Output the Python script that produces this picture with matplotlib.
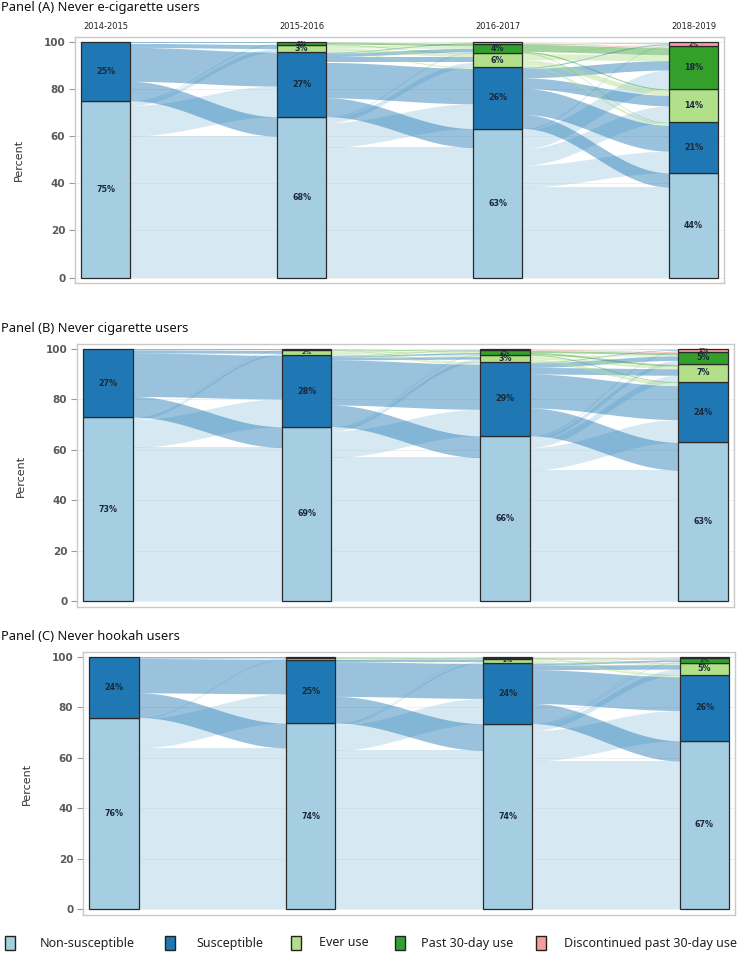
import numpy as np
import matplotlib.pyplot as plt
from matplotlib.patches import Rectangle

# waves and categories
years = ["2014-2015", "2015-2016", "2016-2017", "2018-2019"]
categories = ["Non-susceptible", "Susceptible", "Ever use", "Past 30-day use",
              "Discontinued past 30-day use"]
panel_titles = ["Panel (A) Never e-cigarette users",
                "Panel (B) Never cigarette users",
                "Panel (C) Never hookah users"]

# transition flows (% of cohort), rows = from category, cols = to category
ecig_flow_1 = [[60.0, 13.0, 1.5, 0.5, 0.0],
               [8.2, 14.4, 1.7, 0.7, 0.0],
               [0, 0, 0, 0, 0],
               [0, 0, 0, 0, 0],
               [0, 0, 0, 0, 0]]
ecig_flow_2 = [[55.2, 10.5, 2.0, 0.5, 0.0],
               [8.0, 15.0, 2.5, 1.5, 0.4],
               [0.0, 0.5, 1.3, 1.1, 0.3],
               [0.0, 0.0, 0.2, 0.9, 0.1],
               [0, 0, 0, 0, 0]]
ecig_flow_3 = [[38.4, 9.2, 7.0, 8.0, 0.6],
               [6.0, 11.0, 4.5, 4.0, 0.5],
               [0.0, 1.0, 2.2, 2.5, 0.3],
               [0.0, 0.2, 0.5, 3.0, 0.3],
               [0.0, 0.0, 0.0, 0.5, 0.3]]

cig_flow_1 = [[61.0, 11.0, 0.8, 0.2, 0.0],
              [8.2, 17.3, 1.2, 0.3, 0.0],
              [0, 0, 0, 0, 0],
              [0, 0, 0, 0, 0],
              [0, 0, 0, 0, 0]]
cig_flow_2 = [[57.0, 10.5, 1.2, 0.4, 0.1],
              [8.6, 17.9, 1.0, 0.6, 0.2],
              [0.0, 0.7, 0.5, 0.6, 0.2],
              [0.0, 0.1, 0.1, 0.3, 0.0],
              [0, 0, 0, 0, 0]]
cig_flow_3 = [[52.0, 9.0, 2.6, 1.5, 0.5],
              [11.0, 13.5, 2.6, 1.8, 0.3],
              [0.0, 1.2, 1.0, 0.5, 0.1],
              [0.0, 0.3, 0.7, 0.8, 0.1],
              [0.0, 0.0, 0.1, 0.4, 0.0]]

hookah_flow_1 = [[64.0, 11.6, 0.3, 0.1, 0.0],
                 [9.8, 13.6, 0.3, 0.3, 0.0],
                 [0, 0, 0, 0, 0],
                 [0, 0, 0, 0, 0],
                 [0, 0, 0, 0, 0]]
hookah_flow_2 = [[63.0, 10.0, 0.6, 0.1, 0.1],
                 [10.6, 13.8, 0.6, 0.1, 0.1],
                 [0.0, 0.2, 0.4, 0.0, 0.0],
                 [0.0, 0.0, 0.2, 0.2, 0.0],
                 [0, 0, 0, 0, 0]]
hookah_flow_3 = [[58.8, 12.0, 2.2, 0.4, 0.2],
                 [8.0, 13.4, 1.8, 0.7, 0.1],
                 [0.0, 0.7, 0.6, 0.4, 0.1],
                 [0.0, 0.1, 0.1, 0.2, 0.0],
                 [0.0, 0.0, 0.1, 0.1, 0.0]]

colors = ["#a6cee3", "#1f78b4", "#b2df8a", "#33a02c", "#fb9a99"]

W, H = 743, 958
fig = plt.figure(figsize=(W / 100, H / 100), dpi=100)


def px_axes(left, top, right, bottom):
    return fig.add_axes([left / W, 1 - bottom / H, (right - left) / W, (bottom - top) / H])


def draw_panel(ax, flows):
    flows = [np.array(f, dtype=float) for f in flows]
    nodes = [f.sum(axis=1) for f in flows] + [flows[-1].sum(axis=0)]
    bw = 0.25
    s = np.linspace(0, 1, 80)
    t = (1 - np.cos(np.pi * s)) / 2
    n = len(categories)

    for k, f in enumerate(flows):
        x0, x1 = k + bw / 2, k + 1 - bw / 2
        xs = x0 + (x1 - x0) * s
        src_base = np.concatenate([[0], np.cumsum(nodes[k])[:-1]])
        tgt_base = np.concatenate([[0], np.cumsum(nodes[k + 1])[:-1]])
        tgt_start = np.zeros_like(f)
        for j in range(n):
            acc = tgt_base[j]
            for i in range(n):
                tgt_start[i, j] = acc
                acc += f[i, j]
        for i in range(n):
            acc = src_base[i]
            for j in range(n):
                v = f[i, j]
                if v > 0:
                    ya, yb = acc, tgt_start[i, j]
                    lo = ya + (yb - ya) * t
                    ax.fill_between(xs, lo, lo + v, color=colors[i], alpha=0.45,
                                    lw=0, zorder=2)
                acc += v

    for k, vals in enumerate(nodes):
        bottom = 0
        for i, v in enumerate(vals):
            if v > 0:
                bars = ax.bar(k, v, bw, bottom=bottom, color=colors[i],
                              edgecolor="#2a2a2a", lw=0.9, zorder=3)
                if v >= 0.9:
                    size = 5.8 if v >= 2.5 else 4.2
                    lab = ax.text(k, bottom + v / 2, f"{v:.0f}%", ha="center",
                                  va="center", fontsize=size, fontweight="bold",
                                  color="#1b2838", zorder=4)
                    # thin slices: keep the label inside its own slice
                    if v < 2.5:
                        lab.set_clip_path(bars.patches[0])
            bottom += v

    ax.set_xlim(-0.157, 3.155)
    ax.set_ylim(-2.3, 102)
    ax.set_xticks([])
    ax.set_yticks(range(0, 101, 20))
    ax.grid(axis="y", color="#ececec", lw=0.6, zorder=0)
    ax.tick_params(axis="y", length=4, width=0.8, color="#9a9a9a", labelsize=7.5,
                   labelcolor="#5a5a5a", pad=3)
    for lab in ax.get_yticklabels():
        lab.set_fontweight("bold")
    for sp in ax.spines.values():
        sp.set_color("#c9c9c9")
        sp.set_linewidth(1.0)
    ax.set_ylabel("Percent", fontsize=8, color="#333333",
                  family=["Liberation Sans Narrow", "DejaVu Sans"], labelpad=14)


panels = [
    ([ecig_flow_1, ecig_flow_2, ecig_flow_3], (75, 37, 724, 283), 8),
    ([cig_flow_1, cig_flow_2, cig_flow_3], (77, 344, 734, 607), 329),
    ([hookah_flow_1, hookah_flow_2, hookah_flow_3], (83, 652, 735, 915), 636),
]

for p, (flows, box, title_y) in enumerate(panels):
    ax = px_axes(*box)
    draw_panel(ax, flows)
    fig.text(1 / W, 1 - title_y / H, panel_titles[p], ha="left", va="center",
             fontsize=9.3, family="Noto Sans", color="#111111")
    if p == 0:
        for k, yr in enumerate(years):
            ax.text(k, 104.5, yr, ha="center", va="bottom", fontsize=6,
                    color="#222222")

# legend along the bottom
leg_y = 943
sq_x = [5, 165, 291, 395, 536]
txt_x = [40, 196, 319, 421, 564]
for i, name in enumerate(categories):
    fig.patches.append(Rectangle((sq_x[i] / W, 1 - (leg_y + 7) / H), 10 / W, 14 / H,
                                 transform=fig.transFigure, facecolor=colors[i],
                                 edgecolor="#222222", lw=1.0))
    fig.text(txt_x[i] / W, 1 - leg_y / H, name, ha="left", va="center",
             fontsize=9, family="Noto Sans", color="#222222")

fig.savefig("out.png", dpi=100)
